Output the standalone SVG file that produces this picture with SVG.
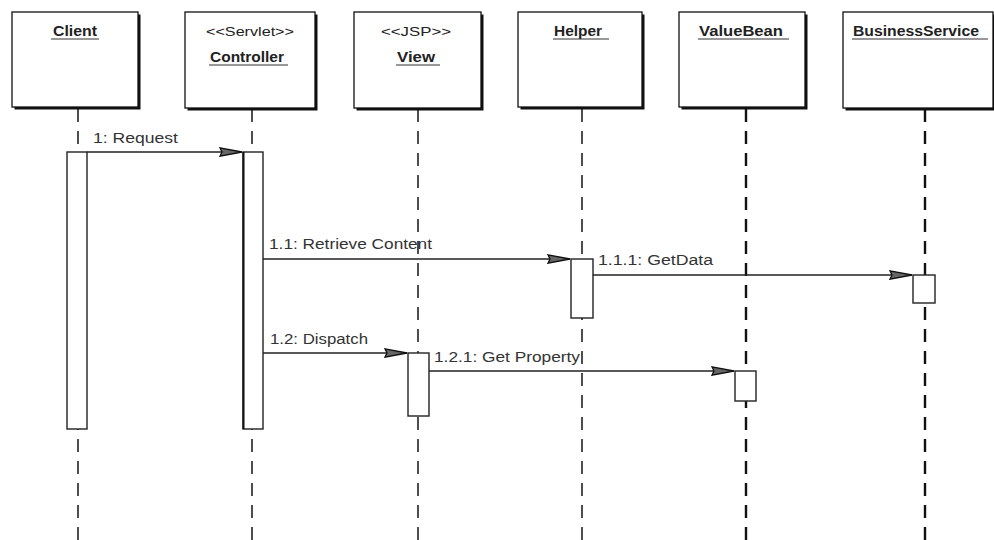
<svg xmlns="http://www.w3.org/2000/svg" width="994" height="540" viewBox="0 0 994 540">
<style>
.bg{fill:#fff}
.box{fill:#fff;stroke:#111;stroke-width:1.3}
.sh{fill:#111}
.life{stroke:#222;stroke-width:1.6;stroke-dasharray:13 9;fill:none}
.lifeb{stroke:#111;stroke-width:2.4;stroke-dasharray:13 9;fill:none}
.act{fill:#fff;stroke:#222;stroke-width:1.4}
.title{font-family:"Liberation Sans",Arial,sans-serif;font-size:14px;font-weight:bold;fill:#222;text-anchor:middle}
.stereo{font-family:"Liberation Sans",Arial,sans-serif;font-size:12px;fill:#222;text-anchor:middle}
.ul{stroke:#333;stroke-width:1.2}
.msg{stroke:#222;stroke-width:1.3;fill:none}
.lbl{font-family:"Liberation Sans",Arial,sans-serif;font-size:14px;fill:#333}
</style>
<defs>
<marker id="arr" viewBox="0 0 24 10" refX="23" refY="5" markerWidth="24" markerHeight="10" markerUnits="userSpaceOnUse" orient="auto">
<path d="M1,0.8 L23,5 L1,9.2 L3,5 Z" fill="#666" stroke="#111" stroke-width="1.3"/>
</marker>
</defs>
<rect class="bg" x="0" y="0" width="994" height="540"/>

<g id="client">
<line class="life" x1="78" y1="109" x2="78" y2="540"/>
<rect class="sh" x="14.5" y="14.5" width="126" height="95"/>
<rect class="box" x="12" y="12" width="126" height="95"/>
<text class="title" x="75" y="36" textLength="44" lengthAdjust="spacingAndGlyphs">Client</text>
<line class="ul" x1="51" y1="39" x2="99" y2="39"/>
<rect class="act" x="67" y="152" width="20" height="277"/>
</g>

<g id="controller">
<line class="life" x1="252" y1="109" x2="252" y2="540"/>
<rect class="sh" x="187.5" y="14.5" width="130" height="96"/>
<rect class="box" x="185" y="12" width="130" height="96"/>
<text class="stereo" x="250" y="36" textLength="88" lengthAdjust="spacingAndGlyphs">&lt;&lt;Servlet&gt;&gt;</text>
<text class="title" x="247" y="62" textLength="74" lengthAdjust="spacingAndGlyphs">Controller</text>
<line class="ul" x1="209" y1="65" x2="288" y2="65"/>
<rect class="act" x="243" y="152" width="20" height="277"/>
<line x1="243.5" y1="152" x2="243.5" y2="429" stroke="#111" stroke-width="2"/>
</g>

<g id="view">
<line class="life" x1="418" y1="109" x2="418" y2="540"/>
<rect class="sh" x="356.5" y="14.5" width="127" height="96"/>
<rect class="box" x="354" y="12" width="127" height="96"/>
<text class="stereo" x="416" y="36" textLength="70" lengthAdjust="spacingAndGlyphs">&lt;&lt;JSP&gt;&gt;</text>
<text class="title" x="416" y="62" textLength="38" lengthAdjust="spacingAndGlyphs">View</text>
<line class="ul" x1="396" y1="65" x2="440" y2="65"/>
<rect class="act" x="408" y="353" width="21" height="63"/>
</g>

<g id="helper">
<line class="life" x1="582" y1="109" x2="582" y2="540"/>
<rect class="sh" x="520.5" y="14.5" width="124" height="95"/>
<rect class="box" x="518" y="12" width="124" height="95"/>
<text class="title" x="578" y="36" textLength="48" lengthAdjust="spacingAndGlyphs">Helper</text>
<line class="ul" x1="553" y1="39" x2="609" y2="39"/>
<rect class="act" x="571" y="259" width="22" height="59"/>
</g>

<g id="valuebean">
<line class="lifeb" x1="746" y1="109" x2="746" y2="540"/>
<rect class="sh" x="681.5" y="14.5" width="126" height="95"/>
<rect class="box" x="679" y="12" width="126" height="95"/>
<text class="title" x="741" y="36" textLength="84" lengthAdjust="spacingAndGlyphs">ValueBean</text>
<line class="ul" x1="698" y1="39" x2="789" y2="39"/>
<rect class="act" x="735" y="371" width="21" height="30" stroke-width="2"/>
</g>

<g id="businessservice">
<line class="lifeb" x1="925" y1="109" x2="925" y2="540"/>
<rect class="sh" x="845.5" y="14.5" width="150" height="96"/>
<rect class="box" x="843" y="12" width="150" height="96"/>
<text class="title" x="916" y="36" textLength="126" lengthAdjust="spacingAndGlyphs">BusinessService</text>
<line class="ul" x1="852" y1="39" x2="988" y2="39"/>
<rect class="act" x="913" y="275" width="22" height="28"/>
</g>

<g id="connectors">
<line class="msg" x1="87" y1="152" x2="242" y2="152" marker-end="url(#arr)"/>
<text class="lbl" x="93" y="143" textLength="85" lengthAdjust="spacingAndGlyphs">1: Request</text>
<line class="msg" x1="263" y1="259" x2="570" y2="259" marker-end="url(#arr)"/>
<text class="lbl" x="269" y="249" textLength="163" lengthAdjust="spacingAndGlyphs">1.1: Retrieve Content</text>
<line class="msg" x1="593" y1="275" x2="912" y2="275" marker-end="url(#arr)"/>
<text class="lbl" x="598" y="265" textLength="115" lengthAdjust="spacingAndGlyphs">1.1.1: GetData</text>
<line class="msg" x1="263" y1="353" x2="407" y2="353" marker-end="url(#arr)"/>
<text class="lbl" x="270" y="344" textLength="98" lengthAdjust="spacingAndGlyphs">1.2: Dispatch</text>
<line class="msg" x1="429" y1="371" x2="734" y2="371" marker-end="url(#arr)"/>
<text class="lbl" x="434" y="362" textLength="146" lengthAdjust="spacingAndGlyphs">1.2.1: Get Property</text>
</g>
</svg>
